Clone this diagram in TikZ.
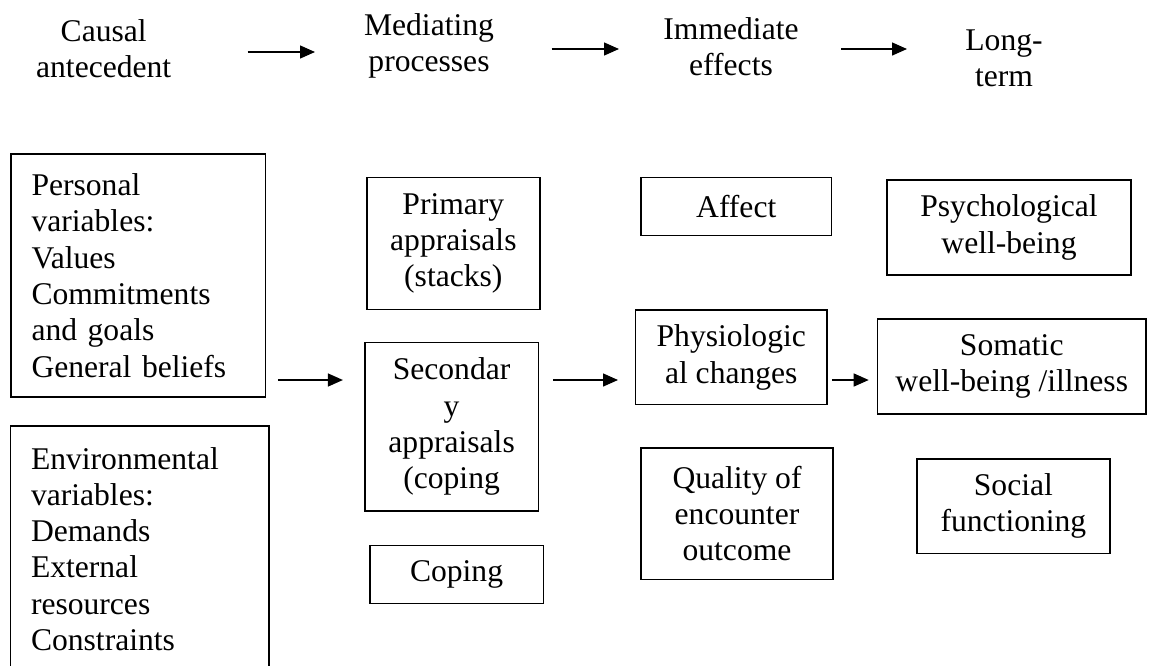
\documentclass[tikz,border=0pt]{standalone}
\usepackage{fontspec}
\setmainfont{Liberation Serif}
\usetikzlibrary{arrows.meta}
\newcommand{\fs}{\fontsize{31.6pt}{36.3pt}\selectfont}
\tikzset{
  lbl/.style={font=\fs, align=center, inner sep=0pt},
  box/.style={draw, line width=1.6pt, font=\fs, align=center, inner sep=0pt},
  lbox/.style={box, align=left, inner xsep=20.5pt, inner ysep=0pt},
  arr/.style={line width=1.4pt, -{Triangle[length=15pt,width=13pt]}},
}
\begin{document}
\begin{tikzpicture}[x=1pt,y=-1pt]
\useasboundingbox (0,0) rectangle (1149,665);
\clip (0,0) rectangle (1149,665);

% column headings
\node[lbl] (causal) at (103.7,49) {Causal\\antecedent};
\node[lbl] (med)    at (429,46)   {Mediating\\processes};
\node[lbl] (imm)    at (731,47)   {Immediate\\effects};
\node[lbl] (long)   at (1004,58)  {Long-\\term};

\coordinate (h1a) at (247.6,52);  \coordinate (h1b) at (315,52);
\coordinate (h2a) at (551.6,49);  \coordinate (h2b) at (619,49);
\coordinate (h3a) at (841,49);    \coordinate (h3b) at (907,49);
\draw[arr] (h1a) -- (h1b);
\draw[arr] (h2a) -- (h2b);
\draw[arr] (h3a) -- (h3b);

% causal antecedents
\node[lbox, text width=213.5pt, minimum height=243pt] (pers) at (138.25,275.5)
  {Personal\\variables:\\Values\\Commitments\\and goals\\General beliefs};
\node[lbox, text width=217.5pt, minimum height=246pt] (env) at (139.75,549)
  {Environmental\\variables:\\Demands\\External\\resources\\Constraints};

% mediating processes
\node[box, minimum width=173.3pt, minimum height=132pt] (prim) at (453.35,243.3)
  {Primary\\appraisals\\(stacks)};
\node[box, minimum width=173.8pt, minimum height=168.7pt] (sec) at (451.6,426.65)
  {Secondar\\y\\appraisals\\(coping};
\node[box, minimum width=173.7pt, minimum height=58pt] (cop) at (456.55,574.5)
  {Coping};

% immediate effects
\node[box, minimum width=190.5pt, minimum height=58.2pt] (aff) at (736.25,206.4)
  {Affect};
\node[box, minimum width=191.5pt, minimum height=94.6pt] (phy) at (731.25,357.3)
  {Physiologic\\al changes};
\node[box, minimum width=192pt, minimum height=131.6pt] (qua) at (737,513.5)
  {Quality of\\encounter\\outcome};

% long-term effects
\node[box, minimum width=244pt, minimum height=95pt] (psy) at (1009,227.5)
  {Psychological\\well-being};
\node[box, minimum width=268.5pt, minimum height=95pt] (som) at (1011.75,366.5)
  {Somatic\\well-being /illness};
\node[box, minimum width=192.8pt, minimum height=94.6pt] (soc) at (1013.4,506)
  {Social\\functioning};

% flow between the columns
\coordinate (row) at (0,380);
\draw[arr, shorten <=11.5pt, shorten >=21pt] (pers.east |- row) -- (sec.west |- row);
\draw[arr, shorten <=14pt, shorten >=16.7pt] (sec.east |- row) -- (phy.west |- row);
\draw[arr, shorten <=4pt, shorten >=8pt] (phy.east |- row) -- (som.west |- row);
\end{tikzpicture}
\end{document}
